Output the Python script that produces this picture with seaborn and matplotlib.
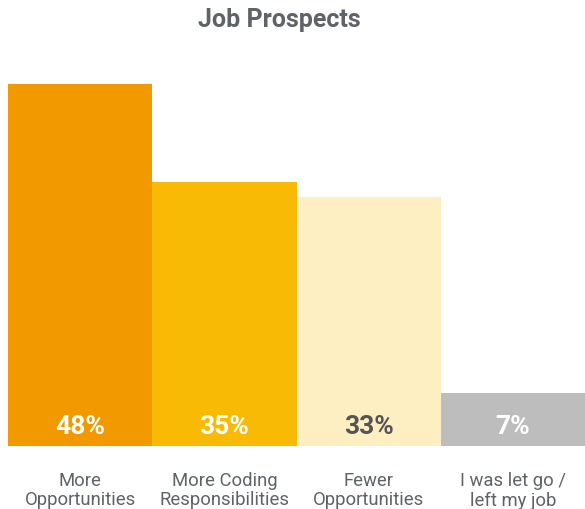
import matplotlib
matplotlib.use("Agg")
import matplotlib.pyplot as plt
import seaborn as sns
import pandas as pd

categories = ["More\nOpportunities", "More Coding\nResponsibilities", "Fewer\nOpportunities", "I was let go /\nleft my job"]
values = [48, 35, 33, 7]
value_labels = ["48%", "35%", "33%", "7%"]
colors = ["#F29900", "#F9BA05", "#FEEFC3", "#BDBDBD"]
label_colors = ["#FFFFFF", "#FFFFFF", "#555555", "#FFFFFF"]

sns.set_theme(style="white")
plt.rcParams["font.family"] = ["Roboto", "DejaVu Sans"]

df = pd.DataFrame({"cat": categories, "val": values})

fig = plt.figure(figsize=(5.85, 5.10), dpi=100)
ax = fig.add_axes([8 / 585, 1 - 447 / 510, 577 / 585, 387 / 510])
sns.barplot(data=df, x="cat", y="val", hue="cat", palette=colors, width=1.0,
            dodge=False, legend=False, ax=ax, saturation=1, linewidth=0)
ax.set_xlim(-0.5, 3.5)
ax.set_ylim(0, 51.33)
for s in ax.spines.values():
    s.set_visible(False)
ax.set_yticks([])
ax.set_xlabel("")
ax.set_ylabel("")
ax.tick_params(axis="x", length=0, pad=18, labelsize=13.3, labelcolor="#5F6368")
for lbl in ax.get_xticklabels():
    lbl.set_linespacing(1.1)

for i, (v, t, c) in enumerate(zip(values, value_labels, label_colors)):
    ax.text(i, 2.7, t, ha="center", va="center", color=c, fontsize=19, fontweight="bold")

fig.text(279 / 585, 1 - 20 / 510, "Job Prospects", ha="center", va="center",
         fontsize=18, fontweight="bold", color="#5F6368")

fig.savefig("out.png", dpi=100, facecolor="white")
